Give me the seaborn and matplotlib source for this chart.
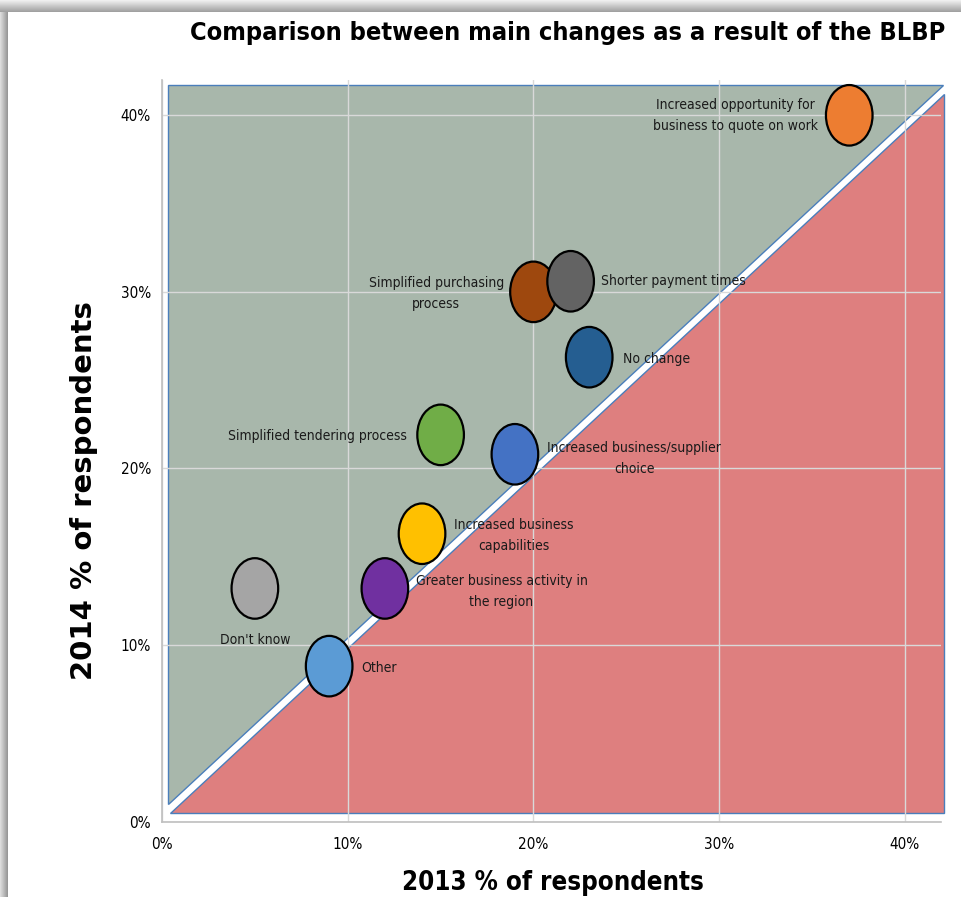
import numpy as np
import pandas as pd
import matplotlib
matplotlib.use("Agg")
import matplotlib.pyplot as plt
import seaborn as sns
from matplotlib import font_manager
from matplotlib.font_manager import FontProperties
from matplotlib.path import Path
from matplotlib.markers import MarkerStyle

# ---- data -------------------------------------------------------------
labels = [
    "Increased opportunity for\nbusiness to quote on work",
    "Simplified purchasing\nprocess",
    "Shorter payment times",
    "No change",
    "Simplified tendering process",
    "Increased business/supplier\nchoice",
    "Increased business\ncapabilities",
    "Greater business activity in\nthe region",
    "Don't know",
    "Other",
]
pct_2013 = [37, 20, 22, 23, 15, 19, 14, 12, 5, 9]
pct_2014 = [40.0, 30.0, 30.6, 26.3, 21.9, 20.8, 16.3, 13.2, 13.2, 8.8]
colors = ["#ED7D31", "#9E480E", "#636363", "#255E91", "#70AD47",
          "#4472C4", "#FFC000", "#7030A0", "#A5A5A5", "#5B9BD5"]
tick_values = [0, 10, 20, 30, 40]
tick_labels = ["0%", "10%", "20%", "30%", "40%"]

title = "Comparison between main changes as a result of the BLBP"
x_title = "2013 % of respondents"
y_title = "2014 % of respondents"

# label placement relative to each bubble: (dx, dy) in points, alignment
label_layout = [
    (-82, 0, "center"),
    (-70, -1, "center"),
    (22, 0, "left"),
    (24, -1, "left"),
    (-24, -1, "right"),
    (86, -3, "center"),
    (66, -1.5, "center"),
    (84, -2, "center"),
    (0, -37, "center"),
    (23, -1.5, "left"),
]

df = pd.DataFrame({"change": labels, "y2013": pct_2013, "y2014": pct_2014})


# ---- fonts ------------------------------------------------------------
def font_file(name):
    for f in font_manager.fontManager.ttflist:
        if f.fname.endswith(name):
            return f.fname
    return None


cond = font_file("DejaVuSansCondensed.ttf")
cond_bold = font_file("DejaVuSansCondensed-Bold.ttf")


def fp(size, bold=False, condensed=True):
    path = cond_bold if bold else cond
    if condensed and path:
        return FontProperties(fname=path, size=size)
    return FontProperties(family="DejaVu Sans", weight="bold" if bold else "normal",
                          size=size)


# ---- figure -----------------------------------------------------------
W, H = 962, 897
fig = plt.figure(figsize=(W / 100, H / 100), dpi=100, facecolor="white")

# window frame: shaded strip along the top and left edges
top_ax = fig.add_axes([0, 1 - 12 / H, 1, 12 / H])
top_ax.imshow(np.linspace(0.95, 0.62, 50).reshape(-1, 1), cmap="gray", vmin=0, vmax=1,
              aspect="auto", extent=[0, 1, 0, 1])
top_ax.axis("off")
left_ax = fig.add_axes([0, 0, 8 / W, 1 - 12 / H])
left_ax.imshow(np.linspace(0.88, 0.58, 50).reshape(1, -1), cmap="gray", vmin=0, vmax=1,
               aspect="auto", extent=[0, 1, 0, 1])
left_ax.axis("off")

ax = fig.add_axes([162 / W, (H - 821.5) / H, 779 / W, 741.5 / H])
ax.set_xlim(0, 41.94)
ax.set_ylim(0, 42.0)

# shaded halves above and below the diagonal
ax.fill([0.3, 0.3, 42.05], [1.0, 41.7, 41.7], facecolor="#A8B7AB",
        edgecolor="#4A7EBB", linewidth=1.0, zorder=0.2, clip_on=False)
ax.fill([0.45, 42.1, 42.1], [0.48, 0.48, 41.2], facecolor="#DE7F7F",
        edgecolor="#4A7EBB", linewidth=1.0, zorder=0.2, clip_on=False)

ax.set_axisbelow(True)
ax.grid(True, color="#D9D9D9", linewidth=1.0)
ax.set_xticks(tick_values)
ax.set_yticks(tick_values)
ax.set_xticklabels(tick_labels, fontproperties=fp(11))
ax.set_yticklabels(tick_labels, fontproperties=fp(11))
ax.tick_params(length=0)
ax.tick_params(axis="y", pad=8)
ax.tick_params(axis="x", pad=11)
for side in ("top", "right"):
    ax.spines[side].set_visible(False)
for side in ("left", "bottom"):
    ax.spines[side].set_color("#BFBFBF")
    ax.spines[side].set_linewidth(1.2)

# tall elliptical bubble marker
circle = Path.unit_circle()
ellipse = Path(circle.vertices * np.array([0.77, 1.0]), circle.codes)

sns.scatterplot(data=df, x="y2013", y="y2014", hue="change",
                palette=dict(zip(labels, colors)), s=1900,
                marker=MarkerStyle(ellipse), edgecolor="black", linewidth=1.6,
                legend=False, zorder=3, clip_on=False, ax=ax)

for lab, x, y, (dx, dy, ha) in zip(labels, pct_2013, pct_2014, label_layout):
    ax.annotate(lab, (x, y), xytext=(dx, dy), textcoords="offset points",
                ha=ha, va="center", multialignment="center",
                fontproperties=fp(10), color="#1A1A1A", zorder=4,
                linespacing=1.65)

ax.set_xlabel("")
ax.set_ylabel("")

fig.text(945 / W, 1 - 33 / H, title, ha="right", va="center",
         fontproperties=fp(18.15, bold=True), color="black")
fig.text(553 / W, 1 - 883 / H, x_title, ha="center", va="center",
         fontproperties=fp(18.5, bold=True), color="black")
fig.text(84 / W, 1 - 491 / H, y_title, ha="center", va="center", rotation=90,
         fontproperties=fp(21, bold=True, condensed=False), color="black")

fig.savefig("out.png", dpi=100, facecolor="white")
